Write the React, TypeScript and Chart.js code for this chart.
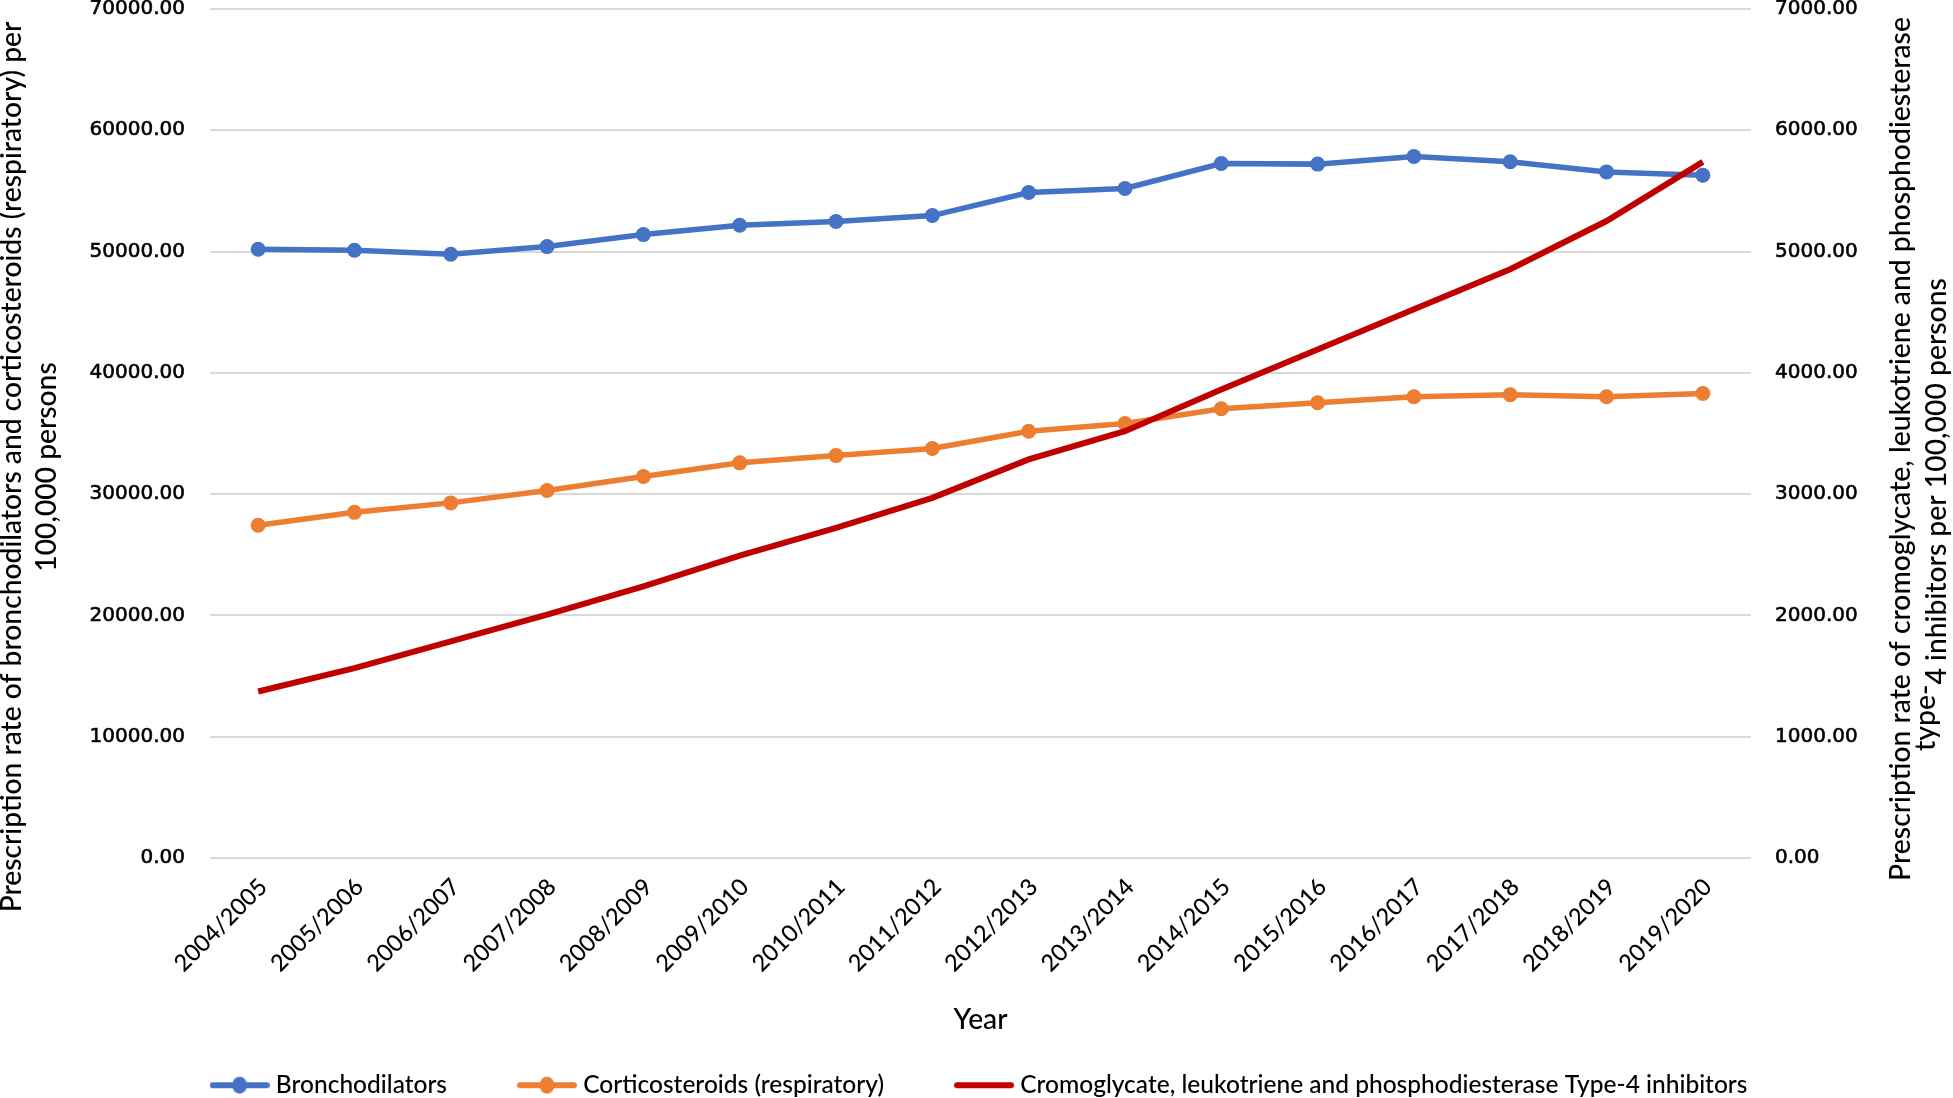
import React, { useEffect, useRef } from "react";
import { Chart, registerables } from "chart.js";

Chart.register(...registerables);

// ---- data ----
const years = [
  "2004/2005", "2005/2006", "2006/2007", "2007/2008", "2008/2009", "2009/2010",
  "2010/2011", "2011/2012", "2012/2013", "2013/2014", "2014/2015", "2015/2016",
  "2016/2017", "2017/2018", "2018/2019", "2019/2020",
];
const bronchodilators = [
  50190, 50110, 49780, 50410, 51400, 52170, 52480, 52970,
  54870, 55200, 57260, 57210, 57840, 57400, 56570, 56300,
];
const corticosteroids = [
  27430, 28500, 29280, 30300, 31450, 32580, 33180, 33760,
  35190, 35830, 37040, 37530, 38030, 38200, 38030, 38300,
];
const cromoglycate = [
  1373, 1566, 1786, 2006, 2240, 2493, 2722, 2969,
  3286, 3519, 3863, 4193, 4524, 4854, 5252, 5740,
];
const seriesNames = [
  "Bronchodilators",
  "Corticosteroids (respiratory)",
  "Cromoglycate, leukotriene and phosphodiesterase Type-4 inhibitors",
];
const leftAxisMax = 70000;
const leftAxisStep = 10000;
const rightAxisMax = 7000;
const rightAxisStep = 1000;
const leftTitle = [
  "Prescription rate of bronchodilators and corticosteroids (respiratory) per",
  "100,000 persons",
];
const rightTitle = [
  "Prescription rate of cromoglycate, leukotriene and phosphodiesterase",
  "type-",
  "4 inhibitors per 100,000 persons",
];
const xTitle = "Year";

// ---- styles ----
const BLUE = "#4472C4";
const ORANGE = "#ED7D31";
const RED = "#C00000";
const GRID = "#d9d9d9";
const TITLE_FONT = "Lato";
const TEXT_WEIGHT = 500;

function makeMarker(color: string, withDot: boolean): HTMLCanvasElement {
  const c = document.createElement("canvas");
  c.width = 60;
  c.height = 20;
  const ctx = c.getContext("2d")!;
  ctx.strokeStyle = color;
  ctx.lineWidth = 6;
  ctx.lineCap = "round";
  ctx.beginPath();
  ctx.moveTo(3, 10);
  ctx.lineTo(57, 10);
  ctx.stroke();
  if (withDot) {
    ctx.fillStyle = color;
    ctx.beginPath();
    ctx.ellipse(30, 10, 7.5, 8.5, 0, 0, Math.PI * 2);
    ctx.fill();
  }
  return c;
}

const legendShiftPlugin = {
  id: "legendShift",
  afterLayout(chart: any) {
    const lg = chart.legend;
    if (lg) {
      lg.left += 5;
      lg.right += 5;
    }
  },
};

const titlesPlugin = {
  id: "excelTitles",
  afterDraw(chart: any) {
    const ctx: CanvasRenderingContext2D = chart.ctx;
    const area = chart.chartArea;
    const fontStr = (s: number) => `${TEXT_WEIGHT} ${s}px ${TITLE_FONT}`;
    const fitSize = (text: string, target: number) => {
      ctx.font = fontStr(100);
      const w = ctx.measureText(text).width;
      return (100 * target) / w;
    };
    ctx.save();
    ctx.fillStyle = "#000";
    ctx.textBaseline = "alphabetic";

    // left title
    const ls = fitSize(leftTitle[0], 891);
    ctx.font = fontStr(ls);
    ctx.textAlign = "center";
    const lcy = 467;
    [21, 56].forEach((bx, i) => {
      ctx.save();
      ctx.translate(bx, lcy);
      ctx.rotate(-Math.PI / 2);
      ctx.fillText(leftTitle[i], 0, 0);
      ctx.restore();
    });

    // right title
    const rs = fitSize(rightTitle[0], 864);
    ctx.font = fontStr(rs);
    ctx.save();
    ctx.translate(1910, 449);
    ctx.rotate(-Math.PI / 2);
    ctx.textAlign = "center";
    ctx.fillText(rightTitle[0], 0, 0);
    ctx.restore();
    ctx.textAlign = "left";
    const startY = 751;
    const wType = ctx.measureText(rightTitle[1]).width;
    ctx.save();
    ctx.translate(1935, startY);
    ctx.rotate(-Math.PI / 2);
    ctx.fillText(rightTitle[1], 0, 0);
    ctx.restore();
    ctx.save();
    ctx.translate(1946, startY - wType);
    ctx.rotate(-Math.PI / 2);
    ctx.fillText(rightTitle[2], 0, 0);
    ctx.restore();

    // x title
    ctx.font = fontStr(ls);
    ctx.textAlign = "center";
    ctx.fillText(xTitle, (area.left + area.right) / 2, 1029);
    ctx.restore();
  },
};

export default function App() {
  const ref = useRef<HTMLCanvasElement>(null);

  useEffect(() => {
    const canvas = ref.current!;
    const markers = [makeMarker(BLUE, true), makeMarker(ORANGE, true), makeMarker(RED, false)];

    const yTickStyle = {
      padding: 25,
      color: "#000",
      textStrokeColor: "#000",
      textStrokeWidth: 0.6,
      font: { family: "DejaVu Sans", size: 20 },
      callback: (v: any) => Number(v).toFixed(2),
    };

    const chart = new Chart(canvas, {
      type: "line",
      data: {
        labels: years,
        datasets: [
          {
            label: seriesNames[0],
            data: bronchodilators,
            yAxisID: "y",
            borderColor: BLUE,
            backgroundColor: BLUE,
            borderWidth: 5.5,
            pointRadius: 7.5,
            pointBorderWidth: 0,
            pointBackgroundColor: BLUE,
            tension: 0,
            order: 2,
          },
          {
            label: seriesNames[1],
            data: corticosteroids,
            yAxisID: "y",
            borderColor: ORANGE,
            backgroundColor: ORANGE,
            borderWidth: 5.5,
            pointRadius: 7.5,
            pointBorderWidth: 0,
            pointBackgroundColor: ORANGE,
            tension: 0,
            order: 1,
          },
          {
            label: seriesNames[2],
            data: cromoglycate,
            yAxisID: "y1",
            borderColor: RED,
            backgroundColor: RED,
            borderWidth: 6,
            pointRadius: 0,
            tension: 0,
            order: 0,
          },
        ],
      },
      options: {
        responsive: false,
        maintainAspectRatio: false,
        devicePixelRatio: 1,
        animation: false,
        layout: { padding: 0 },
        plugins: {
          tooltip: { enabled: false },
          title: { display: false },
          legend: {
            display: true,
            position: "bottom",
            maxHeight: 101,
            labels: {
              usePointStyle: true,
              pointStyleWidth: 48,
              padding: 76,
              color: "#000",
              font: { family: "Lato", size: 24.5, weight: TEXT_WEIGHT },
              generateLabels(ch: any) {
                const items = Chart.defaults.plugins.legend.labels.generateLabels(ch);
                items.sort((a: any, b: any) => a.datasetIndex - b.datasetIndex);
                items.forEach((it: any) => {
                  it.pointStyle = markers[it.datasetIndex];
                  it.fontColor = "#000";
                });
                return items;
              },
            },
          },
        },
        scales: {
          x: {
            type: "category",
            offset: true,
            grid: { display: false, drawTicks: false },
            border: { display: false },
            ticks: {
              autoSkip: false,
              minRotation: 45,
              maxRotation: 45,
              padding: 15,
              labelOffset: 5,
              color: "#000",
              font: { family: "Lato", size: 23.5, weight: TEXT_WEIGHT },
            },
            afterFit(scale: any) {
              scale.height = 139;
            },
          },
          y: {
            type: "linear",
            position: "left",
            min: 0,
            max: leftAxisMax,
            grid: { color: GRID, lineWidth: 2, drawTicks: false },
            border: { display: false },
            ticks: { ...yTickStyle, stepSize: leftAxisStep, padding: 25 },
            afterFit(scale: any) {
              scale.width = 210;
              scale.paddingTop = 9;
              scale.paddingBottom = 0;
            },
          },
          y1: {
            type: "linear",
            position: "right",
            min: 0,
            max: rightAxisMax,
            grid: { display: false, drawTicks: false },
            border: { display: false },
            ticks: { ...yTickStyle, stepSize: rightAxisStep, padding: 24 },
            afterFit(scale: any) {
              scale.width = 202;
              scale.paddingTop = 9;
              scale.paddingBottom = 0;
            },
          },
        },
      },
      plugins: [legendShiftPlugin, titlesPlugin],
    } as any);

    let alive = true;
    const fonts: any = (document as any).fonts;
    if (fonts && fonts.load) {
      Promise.all([
        fonts.load(`${TEXT_WEIGHT} 24px Lato`),
        fonts.load('20px "DejaVu Sans"'),
      ])
        .then(() => {
          if (alive) chart.update();
        })
        .catch(() => {});
    }
    return () => {
      alive = false;
      chart.destroy();
    };
  }, []);

  return (
    <div style={{ position: "absolute", left: 0, top: 0, width: 1953, height: 1098, background: "#fff" }}>
      <canvas ref={ref} width={1953} height={1098} style={{ display: "block", width: 1953, height: 1098 }} />
    </div>
  );
}
